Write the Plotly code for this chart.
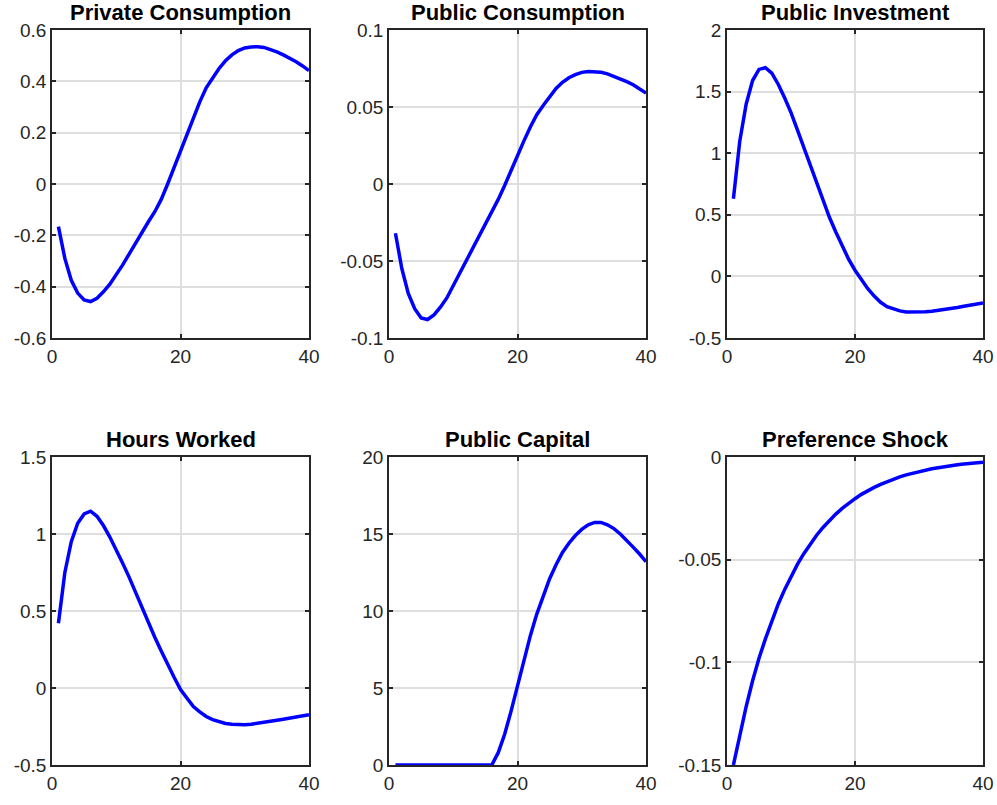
import plotly.graph_objects as go

periods = list(range(1, 41))

private_consumption = [-0.166, -0.29, -0.375, -0.425, -0.452, -0.458, -0.445, -0.42, -0.39, -0.355,
                       -0.315, -0.273, -0.23, -0.187, -0.147, -0.108, -0.06, 0.0, 0.065, 0.13,
                       0.195, 0.26, 0.32, 0.375, 0.415, 0.45, 0.48, 0.503, 0.52, 0.53,
                       0.534, 0.535, 0.532, 0.525, 0.515, 0.503, 0.49, 0.476, 0.46, 0.442]

public_consumption = [-0.032, -0.055, -0.071, -0.081, -0.087, -0.088, -0.085, -0.080, -0.074, -0.066,
                      -0.058, -0.050, -0.042, -0.034, -0.027, -0.019, -0.010, -0.001, 0.009, 0.019,
                      0.028, 0.037, 0.045, 0.051, 0.057, 0.062, 0.066, 0.069, 0.071, 0.0725,
                      0.073, 0.073, 0.0725, 0.0715, 0.070, 0.0685, 0.0665, 0.0645, 0.062, 0.059]

public_investment = [0.63, 1.10, 1.40, 1.59, 1.68, 1.695, 1.65, 1.56, 1.45, 1.33,
                     1.19, 1.05, 0.90, 0.75, 0.61, 0.48, 0.36, 0.25, 0.14, 0.05,
                     -0.03, -0.10, -0.16, -0.21, -0.245, -0.265, -0.28, -0.288, -0.29, -0.29,
                     -0.287, -0.282, -0.276, -0.268, -0.26, -0.252, -0.243, -0.235, -0.226, -0.215]

hours_worked = [0.42, 0.75, 0.95, 1.07, 1.13, 1.148, 1.115, 1.055, 0.98, 0.90,
                0.81, 0.72, 0.62, 0.52, 0.42, 0.33, 0.24, 0.15, 0.07, -0.01,
                -0.07, -0.12, -0.155, -0.185, -0.205, -0.22, -0.23, -0.236, -0.238, -0.238,
                -0.235, -0.23, -0.224, -0.217, -0.21, -0.203, -0.196, -0.189, -0.181, -0.173]

public_capital = [0, 0, 0, 0, 0, 0, 0, 0, 0, 0,
                  0, 0, 0, 0, 0, 0, 0.8, 2.0, 3.5, 5.2,
                  6.9, 8.4, 9.8, 11.0, 12.1, 13.0, 13.8, 14.4, 14.9, 15.3,
                  15.6, 15.75, 15.75, 15.6, 15.35, 15.0, 14.6, 14.15, 13.7, 13.2]

preference_shock = [-0.150, -0.135, -0.1215, -0.109, -0.098, -0.0886, -0.0797, -0.0717, -0.0646, -0.0581,
                    -0.0523, -0.0471, -0.0424, -0.0381, -0.0343, -0.0309, -0.0278, -0.025, -0.0225, -0.0203,
                    -0.0182, -0.0164, -0.0148, -0.0133, -0.012, -0.0108, -0.0097, -0.0087, -0.0079, -0.0071,
                    -0.0064, -0.0057, -0.0052, -0.0046, -0.0042, -0.0038, -0.0034, -0.003, -0.0027, -0.0025]

titles = ["Private Consumption", "Public Consumption", "Public Investment",
          "Hours Worked", "Public Capital", "Preference Shock"]
series = [private_consumption, public_consumption, public_investment,
          hours_worked, public_capital, preference_shock]
y_ranges = [(-0.6, 0.6), (-0.1, 0.1), (-0.5, 2), (-0.5, 1.5), (0, 20), (-0.15, 0)]
y_ticks = [[-0.6, -0.4, -0.2, 0, 0.2, 0.4, 0.6],
           [-0.1, -0.05, 0, 0.05, 0.1],
           [-0.5, 0, 0.5, 1, 1.5, 2],
           [-0.5, 0, 0.5, 1, 1.5],
           [0, 5, 10, 15, 20],
           [-0.15, -0.1, -0.05, 0]]
y_ticklabels = [["-0.6", "-0.4", "-0.2", "0", "0.2", "0.4", "0.6"],
                ["-0.1", "-0.05", "0", "0.05", "0.1"],
                ["-0.5", "0", "0.5", "1", "1.5", "2"],
                ["-0.5", "0", "0.5", "1", "1.5"],
                ["0", "5", "10", "15", "20"],
                ["-0.15", "-0.1", "-0.05", "0"]]
x_ticks = [0, 20, 40]

W, H = 997, 805
col_px = [(52, 309), (389, 646), (727, 983)]
row_px = [(30, 338), (457, 765)]

fig = go.Figure()
font_family = "Liberation Sans, Arial, sans-serif"
axis_color = "#262626"
grid_color = "#dedede"

for i in range(6):
    r, c = divmod(i, 3)
    idx = "" if i == 0 else str(i + 1)
    xa, ya = "x" + idx, "y" + idx
    fig.add_trace(go.Scatter(x=periods, y=series[i], mode="lines",
                             line=dict(color="#0000ff", width=3.5),
                             xaxis=xa, yaxis=ya, showlegend=False, cliponaxis=True))
    x0, x1 = col_px[c]
    t0, t1 = row_px[r]
    common = dict(showline=True, linecolor=axis_color, linewidth=1.5, mirror="ticks",
                  ticks="inside", ticklen=4, tickwidth=1.5, tickcolor=axis_color,
                  showgrid=True, gridcolor=grid_color, gridwidth=1.5, zeroline=False,
                  automargin=False,
                  tickfont=dict(family=font_family, size=19, color=axis_color))
    fig.layout["xaxis" + idx] = dict(domain=[x0 / W, x1 / W], range=[0, 40],
                                     tickvals=x_ticks, ticktext=[str(v) for v in x_ticks],
                                     anchor=ya, **common)
    fig.layout["yaxis" + idx] = dict(domain=[1 - t1 / H, 1 - t0 / H], range=list(y_ranges[i]),
                                     tickvals=y_ticks[i], ticktext=y_ticklabels[i],
                                     anchor=xa, **common)
    fig.add_annotation(text="<b>" + titles[i] + "</b>", xref="paper", yref="paper",
                       x=(x0 + x1) / 2 / W, y=1 - t0 / H, xanchor="center", yanchor="bottom",
                       yshift=3, showarrow=False,
                       font=dict(family=font_family, size=22, color="#000000"))

fig.update_layout(width=W, height=H, margin=dict(l=0, r=0, t=0, b=0, autoexpand=False),
                  paper_bgcolor="white", plot_bgcolor="white")

fig.write_html("out.html", config={"displayModeBar": False},
               post_script="document.body.style.margin='0';document.body.style.overflow='hidden';")
